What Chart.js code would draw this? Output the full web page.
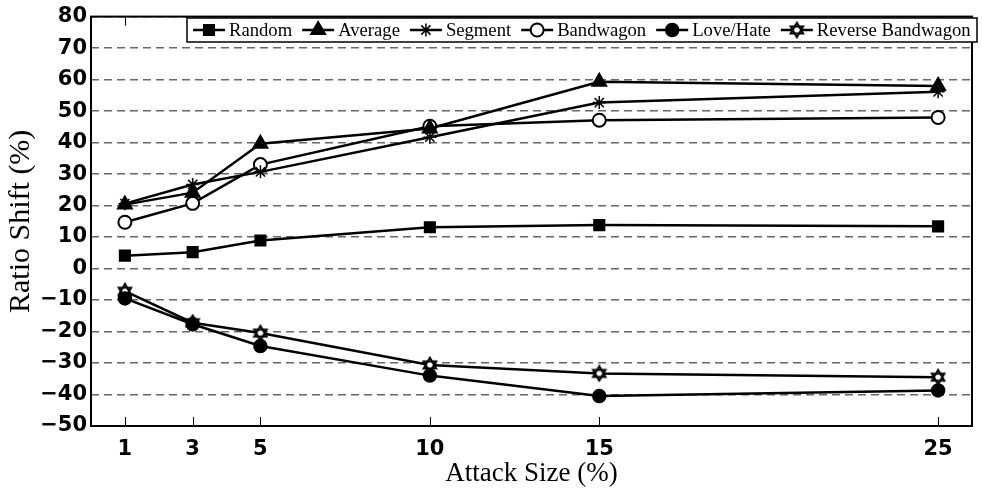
<!DOCTYPE html>
<html>
<head>
<meta charset="utf-8">
<script src="https://cdn.jsdelivr.net/npm/chart.js@4/dist/chart.umd.min.js"></script>
<style>
  html, body { margin: 0; padding: 0; background: #fff; }
  #wrap { width: 982px; height: 490px; }
</style>
</head>
<body>
<div id="wrap"><canvas id="myChart" width="982" height="490"></canvas></div>
<script>
// attack sizes (%) on the x axis
const xValues = [1, 3, 5, 10, 15, 25];
const seriesNames = ['Random', 'Average', 'Segment', 'Bandwagon', 'Love/Hate', 'Reverse Bandwagon'];

// ratio shift (%) per attack type
const random = [4.1, 5.2, 8.9, 13.1, 13.8, 13.4];
const average = [20.3, 24.1, 39.6, 44.5, 59.3, 58.0];
const segment = [20.6, 26.7, 30.7, 41.7, 52.7, 56.1];
const bandwagon = [14.7, 20.7, 33.0, 45.2, 47.1, 48.0];
const loveHate = [-9.5, -17.7, -24.6, -34.0, -40.5, -38.7];
const reverseBandwagon = [-7.2, -17.2, -20.5, -30.6, -33.3, -34.5];

const yMin = -50, yMax = 80, yStep = 10;

// star of david marker, chart.js has no such pointStyle
function hexagram() {
  const c = document.createElement('canvas');
  c.width = 18; c.height = 18;
  const g = c.getContext('2d');
  const r = 7.2;
  g.lineWidth = 2;
  g.strokeStyle = '#000';
  g.fillStyle = '#fff';
  function tri(start) {
    g.beginPath();
    for (let k = 0; k < 3; k++) {
      const a = (start + k * 120) * Math.PI / 180;
      const px = 9 + r * Math.cos(a), py = 9 + r * Math.sin(a);
      if (k == 0) g.moveTo(px, py); else g.lineTo(px, py);
    }
    g.closePath();
  }
  tri(-90); g.fill();
  tri(90); g.fill();
  tri(-90); g.stroke();
  tri(90); g.stroke();
  return c;
}

const allSeries = [random, average, segment, bandwagon, loveHate, reverseBandwagon];
const markers = [
  { style: 'rect', radius: 7.5, fill: '#000' },
  { style: 'triangle', radius: 8.5, fill: '#000' },
  { style: 'star', radius: 6.5, fill: '#000' },
  { style: 'circle', radius: 6.5, fill: '#fff' },
  { style: 'circle', radius: 6.5, fill: '#000' },
  { style: hexagram(), radius: 8, fill: '#fff' }
];

const datasets = allSeries.map(function(vals, i) {
  return {
    label: seriesNames[i],
    data: xValues.map(function(x, j) { return { x: x, y: vals[j] }; }),
    borderColor: '#000',
    borderWidth: 2.5,
    tension: 0,
    pointStyle: markers[i].style,
    pointRadius: markers[i].radius,
    pointHoverRadius: markers[i].radius,
    pointBackgroundColor: markers[i].fill,
    pointBorderColor: '#000',
    pointBorderWidth: markers[i].fill == '#fff' ? 2 : 1.5
  };
});

const tickFont = { family: 'DejaVu Sans', weight: 'bold', size: 21 };
const titleFont = { family: 'Liberation Serif', size: 27 };

// frame, inward tick marks and the boxed legend
const decorations = {
  id: 'decorations',
  afterDraw: function(chart) {
    const ctx = chart.ctx;
    const a = chart.chartArea;
    const xs = chart.scales.x;
    ctx.save();
    ctx.strokeStyle = '#000';
    ctx.lineWidth = 1;
    xValues.forEach(function(v) {
      const px = Math.round(xs.getPixelForValue(v)) + 0.5;
      ctx.beginPath();
      ctx.moveTo(px, a.bottom); ctx.lineTo(px, a.bottom - 9);
      ctx.moveTo(px, a.top); ctx.lineTo(px, a.top + 9);
      ctx.stroke();
    });
    ctx.lineWidth = 2;
    ctx.strokeRect(a.left, a.top, a.right - a.left, a.bottom - a.top);

    // legend
    const lx = 187, ly = 18, lw = 790, lh = 24;
    ctx.fillStyle = '#fff';
    ctx.fillRect(lx, ly, lw, lh);
    ctx.lineWidth = 1.5;
    ctx.strokeRect(lx, ly, lw, lh);
    const sym = 32, gapIn = 4, gapOut = 10;
    let size = 18;
    ctx.font = size + 'px "Liberation Serif"';
    let textW = 0;
    seriesNames.forEach(function(n) { textW += ctx.measureText(n).width; });
    const room = (lw - 12) - seriesNames.length * (sym + gapIn) - (seriesNames.length - 1) * gapOut;
    size = size * room / textW;
    ctx.font = size + 'px "Liberation Serif"';
    let cx = lx + 6;
    const cy = ly + lh / 2;
    chart.data.datasets.forEach(function(ds, i) {
      ctx.strokeStyle = '#000';
      ctx.lineWidth = 2.5;
      ctx.beginPath();
      ctx.moveTo(cx, cy); ctx.lineTo(cx + sym, cy);
      ctx.stroke();
      ctx.fillStyle = ds.pointBackgroundColor;
      ctx.lineWidth = ds.pointBorderWidth;
      Chart.helpers.drawPoint(ctx, {
        pointStyle: ds.pointStyle,
        radius: ds.pointRadius,
        rotation: 0,
        borderWidth: ds.pointBorderWidth
      }, cx + sym / 2, cy);
      cx += sym + gapIn;
      ctx.fillStyle = '#000';
      ctx.textAlign = 'left';
      ctx.textBaseline = 'middle';
      ctx.fillText(ds.label, cx, cy + 1);
      cx += ctx.measureText(ds.label).width + gapOut;
    });
    ctx.restore();
  }
};

const config = {
  type: 'line',
  data: { datasets: datasets },
  options: {
    responsive: false,
    animation: false,
    layout: { padding: { top: 13, right: 2, left: 0, bottom: 0 } },
    plugins: {
      legend: { display: false },
      tooltip: { enabled: false }
    },
    scales: {
      x: {
        type: 'linear',
        min: 0,
        max: 26,
        afterBuildTicks: function(scale) {
          scale.ticks = xValues.map(function(v) { return { value: v }; });
        },
        afterFit: function(scale) { scale.height = 64; },
        grid: { display: false },
        border: { display: false },
        ticks: {
          color: '#000',
          padding: 3,
          maxRotation: 0,
          autoSkip: false,
          font: tickFont
        },
        title: {
          display: true,
          text: 'Attack Size (%)',
          color: '#000',
          padding: { top: 0, bottom: 0 },
          font: titleFont
        }
      },
      y: {
        min: yMin,
        max: yMax,
        afterFit: function(scale) { scale.width = 91; },
        grid: {
          color: '#666',
          lineWidth: 1.5,
          drawTicks: false
        },
        border: { display: false, dash: [8, 5] },
        ticks: {
          stepSize: yStep,
          color: '#000',
          padding: 4,
          font: tickFont,
          callback: function(v) { return String(v).replace('-', '\u2212'); }
        },
        title: {
          display: true,
          text: 'Ratio Shift (%)',
          color: '#000',
          padding: { top: 3, bottom: 0 },
          font: { family: 'Liberation Serif', size: 30 }
        }
      }
    }
  },
  plugins: [decorations]
};

const myChart = new Chart(document.getElementById('myChart'), config);
</script>
</body>
</html>
